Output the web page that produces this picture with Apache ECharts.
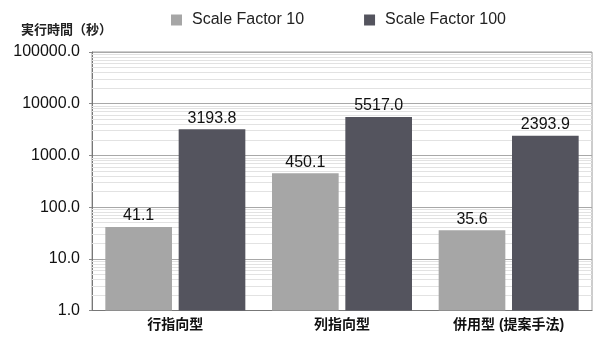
<!DOCTYPE html>
<html>
<head>
<meta charset="utf-8">
<script src="https://cdn.jsdelivr.net/npm/echarts@6/dist/echarts.min.js"></script>
<style>
  html, body { margin: 0; padding: 0; background: #ffffff; }
  #chart { width: 593px; height: 338px; }
</style>
</head>
<body>
<div id="chart"></div>
<script>
// Execution time per storage layout, log scale
const categories = ['行指向型', '列指向型', '併用型 (提案手法)'];
const seriesNames = ['Scale Factor 10', 'Scale Factor 100'];
const sf10 = [41.1, 450.1, 35.6];
const sf100 = [3193.8, 5517.0, 2393.9];
const yTitle = '実行時間（秒）';

const FONT = "'Liberation Sans', 'Noto Sans CJK JP', sans-serif";

// Minor log gridlines: 2..9 within each decade of the axis range
const minorLines = [];
for (let d = 1; d < 100000; d *= 10) {
  for (let m = 2; m <= 9; m++) minorLines.push({ yAxis: d * m });
}

const chart = echarts.init(document.getElementById('chart'));
chart.setOption({
  animation: false,
  backgroundColor: '#ffffff',
  textStyle: { fontFamily: FONT },
  title: {
    text: yTitle,
    left: 16,
    top: 19,
    textStyle: { fontFamily: FONT, fontSize: 13, fontWeight: 'bold', color: '#222' }
  },
  legend: {
    data: seriesNames,
    left: 166,
    top: 7,
    itemWidth: 11,
    itemHeight: 11,
    itemGap: 60,
    icon: 'rect',
    textStyle: { fontFamily: FONT, fontSize: 16, color: '#222', padding: [0, 0, 0, 5] }
  },
  grid: {
    left: 92,
    right: 1,
    top: 52,
    bottom: 27.5,
    show: true,
    borderColor: '#9a9a9a',
    borderWidth: 1,
    containLabel: false
  },
  xAxis: {
    type: 'category',
    data: categories,
    axisLine: { lineStyle: { color: '#777', width: 1 } },
    axisTick: { show: false },
    axisLabel: {
      fontFamily: FONT, fontSize: 14, fontWeight: 'bold', color: '#111', margin: 8
    }
  },
  yAxis: {
    type: 'log',
    logBase: 10,
    min: 1,
    max: 100000,
    axisLine: { show: true, lineStyle: { color: '#777', width: 1 } },
    axisTick: { show: true, length: 3, lineStyle: { color: '#888' } },
    axisLabel: {
      fontFamily: FONT, fontSize: 16, color: '#111', margin: 12,
      formatter: v => Number(v).toFixed(1)
    },
    splitLine: { show: true, lineStyle: { color: '#a8a8a8', width: 1 } }
  },
  series: [
    {
      name: seriesNames[0],
      type: 'bar',
      data: sf10,
      barWidth: '40%',
      barGap: '10%',
      z: 3,
      itemStyle: { color: '#a6a6a6' },
      label: {
        show: true, position: 'top', distance: 3,
        fontFamily: FONT, fontSize: 16, color: '#111',
        formatter: p => p.value.toFixed(1)
      },
      markLine: {
        silent: true,
        z: 1,
        symbol: 'none',
        animation: false,
        label: { show: false },
        lineStyle: { color: '#e2e2e2', width: 1, type: 'solid' },
        data: minorLines
      }
    },
    {
      name: seriesNames[1],
      type: 'bar',
      data: sf100,
      barWidth: '40%',
      barGap: '10%',
      z: 3,
      itemStyle: { color: '#54545e' },
      label: {
        show: true, position: 'top', distance: 3,
        fontFamily: FONT, fontSize: 16, color: '#111',
        formatter: p => p.value.toFixed(1)
      }
    }
  ]
});
</script>
</body>
</html>
